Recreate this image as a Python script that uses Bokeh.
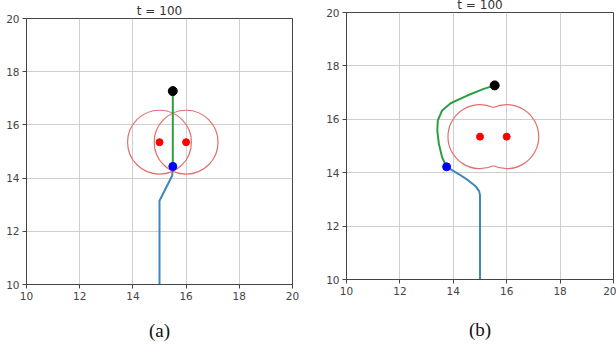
import math
from bokeh.plotting import figure
from bokeh.layouts import row
from bokeh.models import Range1d, FixedTicker
from bokeh.embed import file_html
from bokeh.resources import INLINE

# ---- data ----
ticks = [10, 12, 14, 16, 18, 20]
obs_x = [15.0, 16.0]
obs_y = [15.35, 15.35]
obs_r = 1.2

# panel (a)
a_path_x = [15.0, 15.0, 15.48, 15.5]
a_path_y = [10.0, 13.15, 14.1, 14.44]
a_green_x = [15.5, 15.5]
a_green_y = [14.44, 17.27]
a_start = (15.5, 14.44)
a_goal = (15.5, 17.27)

# panel (b)
b_path_x = [15.0, 15.0, 14.97, 14.85, 14.55, 14.2, 13.75]
b_path_y = [10.0, 13.15, 13.3, 13.48, 13.72, 13.95, 14.22]
b_green_x = [13.75, 13.58, 13.46, 13.40, 13.42, 13.58, 13.90, 14.52, 15.14, 15.55]
b_green_y = [14.22, 14.58, 15.08, 15.58, 15.96, 16.33, 16.60, 16.89, 17.14, 17.27]
b_start = (13.75, 14.22)
b_goal = (15.55, 17.27)

PATH_COLOR = "#3f88b8"
GREEN = "#2e9e45"
CIRCLE = "#e07070"


def make_fig(label, border_left, border_right, margin, label_standoff):
    p = figure(frame_width=266 if label == "(a)" else 267,
               frame_height=266 if label == "(a)" else 267,
               x_range=Range1d(10, 20), y_range=Range1d(10, 20),
               output_backend="svg", toolbar_location=None,
               min_border_left=border_left, min_border_right=border_right,
               min_border_top=18, min_border_bottom=70,
               title="t = 100")
    p.margin = margin
    p.title.align = "center"
    p.title.text_font = "DejaVu Sans"
    p.title.text_font_size = "12px"
    p.title.text_font_style = "normal"
    p.title.text_color = "#333333"
    p.title.standoff = 2
    p.background_fill_color = "white"
    p.border_fill_color = "white"
    p.outline_line_color = "#444444"
    p.outline_line_width = 1
    for ax in (p.xaxis[0], p.yaxis[0]):
        ax.ticker = FixedTicker(ticks=ticks)
        ax.major_tick_out = 4
        ax.major_tick_in = 0
        ax.minor_tick_line_color = None
        ax.axis_line_color = "#444444"
        ax.major_tick_line_color = "#444444"
        ax.major_label_text_font = "DejaVu Sans"
        ax.major_label_text_font_size = "10.5px"
        ax.major_label_text_color = "#444444"
        ax.major_label_standoff = 3
    p.xaxis.axis_label = label
    p.xaxis.axis_label_text_font = "Liberation Serif"
    p.xaxis.axis_label_text_font_size = "19px"
    p.xaxis.axis_label_text_font_style = "normal"
    p.xaxis.axis_label_text_color = "#111111"
    p.xaxis.axis_label_standoff = label_standoff
    p.xgrid.ticker = FixedTicker(ticks=ticks)
    p.ygrid.ticker = FixedTicker(ticks=ticks)
    p.xgrid.grid_line_color = "#cfcfcf"
    p.ygrid.grid_line_color = "#cfcfcf"
    return p


# ---- panel (a) ----
pa = make_fig("(a)", 26, 28, (0, 0, 0, 0), 17)
pa.circle(x=obs_x, y=obs_y, radius=obs_r, fill_color=None,
          line_color=CIRCLE, line_width=1.2)
pa.line(a_path_x, a_path_y, line_color=PATH_COLOR, line_width=2)
pa.line(a_green_x, a_green_y, line_color=GREEN, line_width=2)
pa.scatter(obs_x, obs_y, size=7, color="red")
pa.scatter([a_start[0]], [a_start[1]], size=8, color="blue")
pa.scatter([a_goal[0]], [a_goal[1]], size=9, color="black")

# ---- panel (b) ----
pb = make_fig("(b)", 26, 3, (-6, 0, 0, 0), 21)
half = (obs_x[1] - obs_x[0]) / 2
th = math.acos(half / obs_r)
pb.arc(x=obs_x, y=obs_y, radius=obs_r,
       start_angle=[th, -(math.pi - th)],
       end_angle=[2 * math.pi - th, math.pi - th],
       direction="anticlock", line_color=CIRCLE, line_width=1.2)
pb.line(b_path_x, b_path_y, line_color=PATH_COLOR, line_width=2)
pb.line(b_green_x, b_green_y, line_color=GREEN, line_width=2)
pb.scatter(obs_x, obs_y, size=7, color="red")
pb.scatter([b_start[0]], [b_start[1]], size=8, color="blue")
pb.scatter([b_goal[0]], [b_goal[1]], size=9, color="black")

layout = row(pa, pb)
open("out.html", "w").write(file_html(layout, INLINE))
